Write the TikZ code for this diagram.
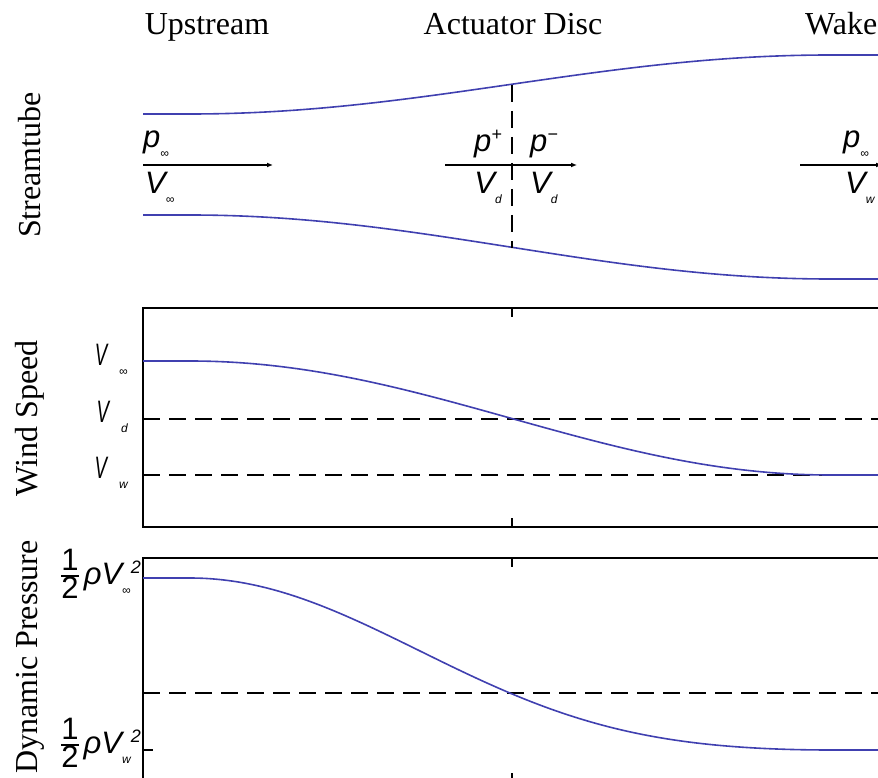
\documentclass[tikz,border=0pt]{standalone}
\usepackage{fontspec}
\setmainfont{Liberation Serif}
\newfontfamily\symfont{Liberation Sans}
\usetikzlibrary{arrows.meta, positioning}
\definecolor{tubeblue}{RGB}{64,64,176}
\newcommand{\lo}[1]{\raisebox{-10pt}{\fontsize{12}{12}\selectfont #1}}
\newcommand{\hi}[1]{\raisebox{11pt}{\fontsize{18}{18}\selectfont #1}}
\newcommand{\narrowV}{\scalebox{0.6}[1]{V}}
\newcommand{\half}{{\upshape\fontsize{31}{31}\selectfont\setlength{\arrayrulewidth}{1.4pt}%
  \begin{tabular}{@{}c@{}}1\\[-4pt]\hline 2\end{tabular}}}

\begin{document}
\begin{tikzpicture}[x=1pt, y=-1pt,
  every node/.style={inner sep=0pt, font=\fontsize{32}{36}\selectfont},
  sym/.style={font=\fontsize{31}{34}\selectfont\symfont\itshape},
  side/.style={rotate=90},
  tube/.style={draw=tubeblue, line width=1.6pt},
  flow/.style={line width=2pt, -{Latex[length=6pt,width=5pt]}},
  frame/.style={line width=2pt},
  guide/.style={line width=1.5pt, dash pattern=on 17pt off 9pt},
  declare function={ramp(\t)=(1-cos(180*min(max(\t,0),1)))/2;}
]
  \useasboundingbox (0,0) rectangle (878,778);

  % headings
  \node[anchor=base] (up) at (207,35) {Upstream};
  \node[anchor=base] (disc) at (513,35) {Actuator Disc};
  \node[anchor=base west] (wake) at (805,35) {Wake};
  \node[side] (ytube) at (30,165) {Streamtube};
  \node[side] (yspeed) at (30,418) {Wind Speed};
  \node[side] (ypress) at (30,657) {Dynamic Pressure};

  % streamtube
  \draw[tube] plot[domain=143:880, samples=120] (\x, {114-59*ramp((\x-190)/640)});
  \draw[tube] plot[domain=143:880, samples=120] (\x, {215+64*ramp((\x-190)/640)});
  \coordinate (dtop) at (512,85);
  \coordinate (dbot) at (512,248);
  \draw[guide] (dtop) -- (dbot);

  \coordinate (a1) at (143,165);  \coordinate (b1) at (273,165);
  \coordinate (a2) at (445,165);  \coordinate (b2) at (577,165);
  \coordinate (a3) at (800,165);  \coordinate (b3) at (882,165);
  \draw[flow] (a1) -- (b1);
  \draw[flow] (a2) -- (b2);
  \draw[flow] (a3) -- (b3);

  \node[sym, anchor=south west] (p1) at (143,158) {p\lo{∞}};
  \node[sym, anchor=north west] (v1) at (145,172) {V\lo{∞}};
  \node[sym, anchor=south east] (p2) at (502,158) {p\hi{+}};
  \node[sym, anchor=south west] (p3) at (530,158) {p\hi{−}};
  \node[sym, anchor=north east] (v2) at (502,172) {V\lo{d}};
  \node[sym, anchor=north west] (v3) at (530,172) {V\lo{d}};
  \node[sym, anchor=south west] (p4) at (843,158) {p\lo{∞}};
  \node[sym, anchor=north west] (v4) at (845,172) {V\lo{w}};

  % wind speed panel
  \coordinate (s0) at (143,308);
  \coordinate (s1) at (143,527);
  \draw[frame] (882,308) -- (s0) -- (s1) -- (882,527);
  \draw[frame] (512,308) -- ++(0,9);
  \draw[frame] (512,527) -- ++(0,-9);
  \draw[guide] (s0 |- 0,419) -- (882,419);
  \draw[guide] (s0 |- 0,475) -- (882,475);
  \draw[tube] plot[domain=143:880, samples=120] (\x, {361+114*ramp((\x-190)/640)});
  \node[sym, anchor=east] (vinf) at (128,360) {\narrowV\kern12pt\lo{∞}};
  \node[sym, anchor=east] (vd) at (128,417) {\narrowV\kern12pt\lo{d}};
  \node[sym, anchor=east] (vw) at (128,473) {\narrowV\kern12pt\lo{w}};

  % dynamic pressure panel
  \coordinate (q0) at (143,558);
  \coordinate (q1) at (143,782);
  \draw[frame] (882,558) -- (q0) -- (q1) -- (882,782);
  \draw[frame] (512,558) -- ++(0,9);
  \draw[frame] (512,782) -- ++(0,-9);
  \draw[frame] (q0 |- 0,750) -- ++(10,0);
  \draw[guide] (q0 |- 0,693) -- (882,693);
  \draw[tube] plot[domain=143:880, samples=150]
    (\x, {578+172*(1-(1-0.807*ramp((\x-190)/640))^2)/0.9628});
  \node[sym, anchor=east] (qinf) at (141,578) {\half\,ρV\lo{∞}\hi{2}};
  \node[sym, anchor=east] (qw) at (141,747) {\half\,ρV\lo{w}\hi{2}};
\end{tikzpicture}
\end{document}
